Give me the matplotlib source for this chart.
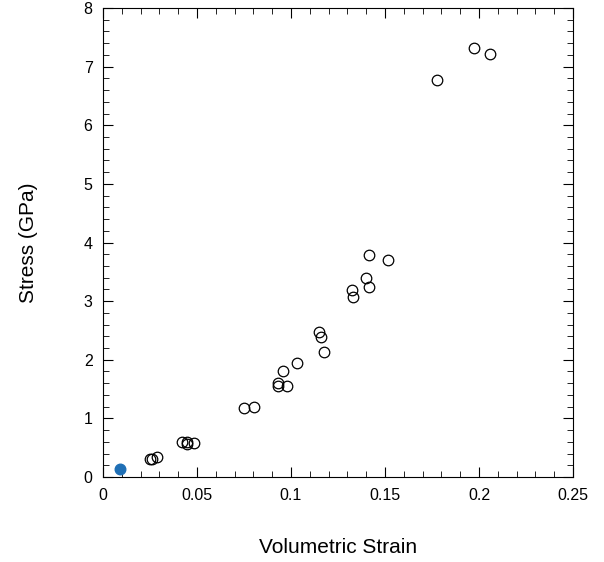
import matplotlib
matplotlib.use("Agg")
import matplotlib.pyplot as plt
from matplotlib.ticker import MultipleLocator

plt.rcParams["font.family"] = ["Liberation Sans", "DejaVu Sans"]

# open circles: volumetric strain vs stress (GPa)
strain = [0.025, 0.026, 0.0285, 0.0422, 0.0445, 0.0448, 0.0484,
          0.075, 0.0803, 0.0929, 0.0933, 0.0959, 0.0977, 0.1034,
          0.1147, 0.1158, 0.1176, 0.1324, 0.1331, 0.1399, 0.1413,
          0.1417, 0.1516, 0.1775, 0.1972, 0.2057]
stress = [0.30, 0.31, 0.345, 0.59, 0.565, 0.59, 0.58,
          1.18, 1.19, 1.56, 1.60, 1.80, 1.56, 1.95,
          2.47, 2.38, 2.13, 3.19, 3.07, 3.39, 3.24,
          3.78, 3.70, 6.77, 7.32, 7.21]

# single filled reference point
ref_strain = [0.009]
ref_stress = [0.14]

fig = plt.figure(figsize=(6.04, 5.62), dpi=100)
ax = fig.add_axes([0.1705, 0.1512, 0.7782, 0.8346])

ax.plot(strain, stress, "o", mfc="none", mec="black", ms=7.6, mew=0.9)
ax.plot(ref_strain, ref_stress, "o", color="#1f6fb5", ms=7.6)

ax.set_xlim(0, 0.25)
ax.set_ylim(0, 8)
ax.xaxis.set_major_locator(MultipleLocator(0.05))
ax.xaxis.set_minor_locator(MultipleLocator(0.01))
ax.yaxis.set_major_locator(MultipleLocator(1))
ax.yaxis.set_minor_locator(MultipleLocator(0.2))
ax.xaxis.set_major_formatter(plt.FuncFormatter(lambda v, p: f"{v:g}"))

ax.tick_params(which="both", direction="in", top=True, right=True, labelsize=11.5)
ax.tick_params(which="major", length=7)
ax.tick_params(which="minor", length=4.5)
ax.tick_params(axis="x", which="major", pad=8)
ax.tick_params(axis="y", which="major", pad=7.5)

ax.set_xlabel("Volumetric Strain", fontsize=15, labelpad=25)
ax.set_ylabel("Stress (GPa)", fontsize=15, labelpad=33)

fig.savefig("out.png", dpi=100)
